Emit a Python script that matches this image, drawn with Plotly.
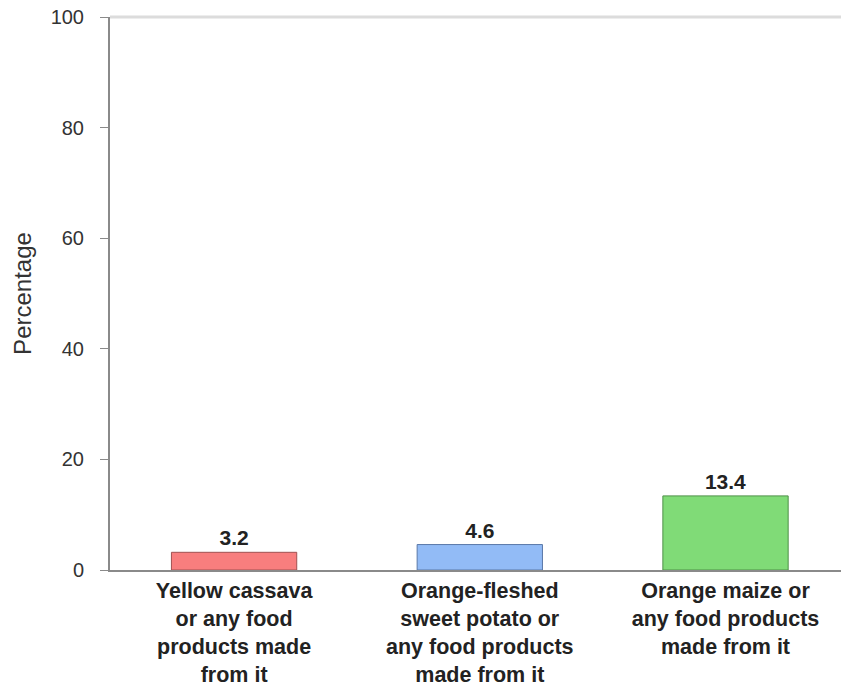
import plotly.graph_objects as go

categories = [
    "Yellow cassava<br>or any food<br>products made<br>from it",
    "Orange-fleshed<br>sweet potato or<br>any food products<br>made from it",
    "Orange maize or<br>any food products<br>made from it",
]
values = [3.2, 4.6, 13.4]
value_labels = ["3.2", "4.6", "13.4"]
colors = ["#F87E7E", "#92BBF6", "#80DB77"]
line_colors = ["#A05050", "#5A78A8", "#4E9148"]
y_ticks = [0, 20, 40, 60, 80, 100]

x_pos = list(range(len(categories)))

FONT = "Arial, Liberation Sans, sans-serif"

fig = go.Figure()
fig.add_trace(go.Bar(
    x=x_pos,
    y=values,
    width=0.51,
    marker=dict(color=colors, line=dict(color=line_colors, width=1)),
    text=["<b>" + t + "</b>" for t in value_labels],
    textposition="outside",
    textfont=dict(family=FONT, size=21, color="#222"),
    cliponaxis=False,
    hoverinfo="skip",
))

fig.update_layout(
    width=841, height=688,
    margin=dict(l=110, r=0, t=17, b=118),
    plot_bgcolor="white",
    paper_bgcolor="white",
    showlegend=False,
    font=dict(family=FONT, color="#333"),
    xaxis=dict(
        range=[-0.505, 2.47],
        tickmode="array",
        tickvals=x_pos,
        ticktext=["<b>" + c + "</b>" for c in categories],
        tickfont=dict(size=21.5, color="#222"),
        showline=True, linecolor="#8a8a8a", linewidth=2,
        showgrid=False, zeroline=False, ticks="",
    ),
    yaxis=dict(
        range=[0, 100],
        tickmode="array",
        tickvals=y_ticks,
        tickfont=dict(size=20, color="#333"),
        ticks="outside", ticklen=8, tickcolor="#8a8a8a", tickwidth=1,
        ticklabelstandoff=12,
        showline=True, linecolor="#8a8a8a", linewidth=2,
        showgrid=False, zeroline=False,
        title=dict(text="Percentage", font=dict(size=24, color="#333"), standoff=12),
    ),
    shapes=[dict(type="line", xref="paper", yref="paper", x0=0, x1=1, y0=1, y1=1,
                 line=dict(color="#dcdcdc", width=3))],
)

fig.write_html("out.html")
